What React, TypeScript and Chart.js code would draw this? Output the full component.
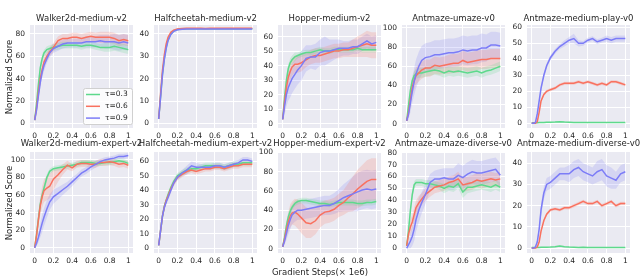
import React, { useEffect, useRef } from "react";
import { Chart, registerables } from "chart.js";
Chart.register(...registerables);

// ---------- shared ----------
const X_STEPS = [0, 0.02, 0.04, 0.06, 0.08, 0.1, 0.13, 0.16, 0.2, 0.25, 0.3, 0.35, 0.4, 0.45, 0.5, 0.55, 0.6, 0.65, 0.7, 0.75, 0.8, 0.85, 0.9, 0.95, 1.0];
const X_TICKS = [0, 0.2, 0.4, 0.6, 0.8, 1];
const LEGEND_LABELS = ["τ=0.3", "τ=0.6", "τ=0.9"];
const LINE_COLORS = ["#5ed98c", "#f9715f", "#7c7cf7"];
const BAND_COLORS = ["rgba(94,217,140,0.2)", "rgba(249,113,95,0.2)", "rgba(124,124,247,0.2)"];
const TITLES = [
  "Walker2d-medium-v2", "Halfcheetah-medium-v2", "Hopper-medium-v2", "Antmaze-umaze-v0", "Antmaze-medium-play-v0",
  "Walker2d-medium-expert-v2", "Halfcheetah-medium-expert-v2", "Hopper-medium-expert-v2", "Antmaze-umaze-diverse-v0", "Antmaze-medium-diverse-v0",
];
const Y_LABEL = "Normalized Score";
const X_LABEL = "Gradient Steps(× 1e6)";

// y axis ticks / ranges per panel
const Y_TICKS = [
  [0, 20, 40, 60, 80],
  [0, 10, 20, 30, 40],
  [0, 10, 20, 30, 40, 50, 60],
  [0, 20, 40, 60, 80, 100],
  [0, 10, 20, 30, 40, 50, 60],
  [0, 20, 40, 60, 80, 100],
  [0, 10, 20, 30, 40, 50, 60],
  [0, 20, 40, 60, 80, 100],
  [0, 10, 20, 30, 40, 50, 60, 70, 80],
  [0, 10, 20, 30, 40],
];
const Y_MIN = [-4, -2, -3, -4.5, -3, -6, -3.3, -4.5, -4, -2.3];
const Y_MAX = [88, 44, 68, 103, 61.5, 109, 66.5, 100.5, 80.5, 45.3];

// ---------- data (mean, ±sd) ----------
// Walker2d-medium-v2
const WM_G = [3, 18, 35, 50, 58, 63, 66, 67, 68, 69, 70, 70, 70, 70, 69, 70, 70, 69, 68, 68, 68, 69, 68, 67, 66];
const WM_G_SD = [1, 3, 4, 4, 4, 3, 3, 3, 3, 3, 3, 3, 3, 3, 3, 3, 3, 3, 3, 4, 4, 4, 4, 4, 4];
const WM_R = [3, 14, 28, 40, 48, 55, 60, 64, 68, 74, 76, 76, 77, 77, 76, 77, 78, 77, 77, 77, 77, 76, 74, 75, 74];
const WM_R_SD = [1, 3, 5, 5, 5, 5, 4, 4, 4, 4, 4, 4, 4, 4, 4, 4, 4, 4, 5, 5, 5, 5, 5, 5, 5];
const WM_B = [3, 12, 25, 37, 46, 52, 58, 63, 67, 69, 71, 72, 72, 72, 72, 73, 73, 73, 74, 73, 73, 73, 72, 73, 72];
const WM_B_SD = [1, 3, 4, 5, 5, 5, 4, 4, 4, 4, 4, 4, 4, 4, 4, 5, 5, 5, 5, 6, 6, 7, 7, 7, 7];
// Halfcheetah-medium-v2
const HM_G = [2, 12, 22, 29, 34, 37.5, 40, 41.3, 42, 42.2, 42.3, 42.3, 42.3, 42.3, 42.3, 42.3, 42.3, 42.3, 42.3, 42.3, 42.3, 42.3, 42.3, 42.3, 42.3];
const HM_G_SD = [0.3, 0.5, 0.6, 0.6, 0.5, 0.5, 0.4, 0.3, 0.3, 0.3, 0.3, 0.3, 0.3, 0.3, 0.3, 0.3, 0.3, 0.3, 0.3, 0.3, 0.3, 0.3, 0.3, 0.3, 0.3];
const HM_R = [2, 13, 23.5, 30.5, 35.5, 38.5, 40.8, 41.7, 42.2, 42.4, 42.5, 42.5, 42.5, 42.5, 42.4, 42.5, 42.5, 42.5, 42.5, 42.6, 42.6, 42.6, 42.6, 42.6, 42.5];
const HM_R_SD = [0.3, 0.5, 0.6, 0.6, 0.5, 0.5, 0.4, 0.3, 0.3, 0.3, 0.3, 0.3, 0.3, 0.3, 0.3, 0.3, 0.3, 0.3, 0.3, 0.3, 0.3, 0.3, 0.3, 0.3, 0.3];
const HM_B = [2, 11.5, 21.5, 28.5, 33.5, 37, 39.8, 41.2, 41.9, 42.1, 42.2, 42.2, 42.2, 42.2, 42.2, 42.2, 42.2, 42.2, 42.2, 42.2, 42.2, 42.2, 42.2, 42.2, 42.2];
const HM_B_SD = [0.3, 0.5, 0.6, 0.6, 0.5, 0.5, 0.4, 0.3, 0.3, 0.3, 0.3, 0.3, 0.3, 0.3, 0.3, 0.3, 0.3, 0.3, 0.3, 0.3, 0.3, 0.3, 0.3, 0.3, 0.3];
// Hopper-medium-v2
const HPM_G = [3, 18, 30, 38, 42, 44, 46, 47, 48, 49, 49, 50, 51, 50, 50, 51, 51, 51, 51, 51, 52, 51, 51, 51, 51];
const HPM_G_SD = [1, 4, 4, 3, 3, 3, 3, 2, 2, 2, 2, 2, 2, 2, 2, 2, 2, 2, 2, 2, 2, 2, 2, 2, 2];
const HPM_R = [3, 15, 25, 32, 36, 39, 41, 41, 42, 44, 46, 47, 47, 48, 49, 50, 50, 51, 51, 52, 53, 54, 55, 54, 54];
const HPM_R_SD = [1, 5, 6, 6, 6, 6, 6, 6, 6, 5, 5, 5, 5, 5, 5, 5, 5, 5, 5, 6, 7, 8, 9, 9, 9];
const HPM_B = [3, 12, 20, 25, 28, 31, 34, 37, 40, 45, 46, 46, 49, 50, 50, 51, 52, 52, 52, 53, 53, 55, 57, 55, 56];
const HPM_B_SD = [1, 6, 8, 9, 10, 10, 10, 10, 10, 9, 8, 9, 9, 10, 8, 7, 6, 5, 5, 5, 5, 5, 5, 5, 5];
// Antmaze-umaze-v0
const AU_G = [3, 20, 35, 45, 50, 52, 53, 53, 54, 55, 56, 55, 53, 55, 54, 55, 54, 53, 54, 55, 53, 55, 56, 58, 60];
const AU_G_SD = [1, 4, 5, 5, 5, 5, 5, 5, 5, 5, 5, 5, 5, 5, 5, 5, 5, 5, 5, 5, 5, 5, 5, 5, 5];
const AU_R = [3, 12, 25, 38, 45, 50, 53, 56, 58, 58, 61, 60, 61, 62, 63, 63, 66, 64, 65, 66, 67, 67, 68, 68, 68];
const AU_R_SD = [1, 5, 7, 8, 9, 9, 9, 9, 9, 9, 9, 9, 9, 10, 10, 10, 10, 10, 10, 10, 10, 10, 10, 10, 10];
const AU_B = [3, 10, 22, 34, 44, 52, 60, 66, 69, 70, 72, 72, 73, 74, 74, 75, 77, 76, 77, 77, 79, 79, 82, 82, 81];
const AU_B_SD = [1, 6, 10, 12, 14, 15, 15, 15, 15, 15, 15, 15, 15, 15, 15, 15, 15, 15, 15, 15, 15, 14, 14, 14, 14];
// Antmaze-medium-play-v0
const AMP_G = [0.3, 0.3, 0.3, 0.3, 0.4, 0.5, 0.5, 0.6, 0.6, 0.7, 0.9, 0.7, 0.6, 0.5, 0.4, 0.4, 0.4, 0.4, 0.4, 0.4, 0.4, 0.5, 0.5, 0.4, 0.4];
const AMP_G_SD = [0.2, 0.2, 0.2, 0.3, 0.3, 0.3, 0.3, 0.3, 0.3, 0.3, 0.3, 0.3, 0.3, 0.3, 0.3, 0.3, 0.3, 0.3, 0.3, 0.3, 0.3, 0.3, 0.3, 0.3, 0.3];
const AMP_R = [0, 0, 0, 1, 7, 14, 18, 20, 21, 22, 24, 25, 25, 25, 26, 25, 26, 25, 24, 25, 24, 26, 26, 25, 24];
const AMP_R_SD = [0, 0, 0.2, 0.5, 1, 1, 1, 1, 1, 1, 1, 1, 1, 1, 1, 1, 1, 1, 1, 1, 1, 1, 1, 1, 1];
const AMP_B = [0, 0, 0.5, 6, 14, 22, 30, 36, 41, 45, 48, 50, 52, 53, 50, 50, 52, 53, 51, 52, 53, 52, 53, 53, 53];
const AMP_B_SD = [0, 0, 0.5, 1, 1.5, 1.5, 1.5, 1.5, 1.5, 1.5, 1.5, 2, 2, 3, 2, 1.5, 1.5, 1.5, 1.5, 1.5, 2, 2, 2, 2, 2];
// Walker2d-medium-expert-v2
const WME_G = [0, 15, 33, 50, 60, 68, 80, 87, 90, 91, 92, 93, 94, 95, 97, 97, 97, 96, 96, 97, 97, 98, 99, 98, 96];
const WME_G_SD = [1, 3, 4, 4, 4, 4, 4, 3, 3, 3, 3, 3, 3, 3, 3, 3, 3, 3, 3, 3, 3, 3, 3, 3, 3];
const WME_R = [0, 14, 32, 48, 58, 65, 68, 70, 78, 83, 89, 94, 91, 95, 96, 96, 95, 95, 97, 97, 98, 97, 95, 96, 94];
const WME_R_SD = [1, 4, 8, 10, 12, 13, 14, 14, 12, 8, 6, 5, 4, 4, 4, 4, 4, 4, 4, 4, 4, 4, 4, 4, 4];
const WME_B = [0, 5, 12, 20, 28, 35, 44, 52, 58, 62, 66, 70, 75, 80, 85, 88, 92, 95, 98, 100, 101, 102, 104, 104, 105];
const WME_B_SD = [1, 3, 6, 8, 10, 10, 10, 9, 8, 7, 6, 5, 5, 4, 4, 4, 4, 4, 3, 3, 3, 3, 3, 3, 3];
// Halfcheetah-medium-expert-v2
const HME_G = [2, 12, 22, 29, 33, 37, 42, 46, 50, 52, 54, 55, 55, 56, 57, 57, 57, 57, 56, 57, 58, 58, 59, 59, 59];
const HME_G_SD = [0.5, 1, 2, 2, 2, 2, 2, 2, 2, 2, 2, 2, 2, 2, 2, 2, 2, 2, 2, 2, 2, 2, 2, 2, 2];
const HME_R = [2, 12, 22, 28.5, 33, 36, 41, 45, 49, 51, 53, 54, 53, 54, 55, 55, 56, 56, 55, 56, 57, 57, 58, 58, 58];
const HME_R_SD = [0.5, 1, 2, 2, 2, 2, 2, 2, 2, 2, 2, 2, 2, 2, 2, 2, 2, 2, 2, 2, 2, 2, 2, 2, 2];
const HME_B = [2, 12, 22, 28, 32, 35, 40, 45, 49, 52, 54, 57, 56, 56, 56, 56, 57, 57, 56, 57, 58, 59, 61, 61, 60];
const HME_B_SD = [0.5, 1, 2, 2, 2, 2, 2, 2, 2, 2, 3, 3, 3, 2, 2, 2, 2, 2, 2, 2, 2, 2, 2, 2, 2];
// Hopper-medium-expert-v2
const HPME_G = [2, 12, 24, 33, 39, 43, 47, 49, 50, 50, 49, 48, 47, 47, 46, 47, 48, 48, 48, 48, 47, 47, 48, 48, 49];
const HPME_G_SD = [1, 3, 4, 4, 4, 3, 3, 3, 3, 3, 3, 3, 3, 3, 3, 3, 3, 3, 3, 3, 3, 3, 3, 3, 3];
const HPME_R = [2, 10, 20, 28, 34, 37, 38, 36, 32, 27, 26, 29, 35, 38, 39, 41, 45, 48, 53, 57, 62, 66, 70, 72, 72];
const HPME_R_SD = [1, 5, 8, 10, 12, 12, 14, 15, 16, 16, 15, 14, 13, 12, 12, 12, 12, 13, 15, 18, 20, 21, 22, 22, 22];
const HPME_B = [2, 8, 16, 24, 30, 35, 38, 40, 40, 41, 42, 43, 44, 45, 45, 47, 50, 53, 55, 57, 59, 61, 62, 61, 62];
const HPME_B_SD = [1, 4, 7, 9, 10, 10, 10, 10, 10, 10, 10, 10, 10, 10, 10, 11, 12, 14, 16, 18, 20, 20, 20, 20, 20];
// Antmaze-umaze-diverse-v0
const AUD_G = [2, 15, 32, 45, 53, 55, 55, 55, 54, 54, 53, 52, 50, 52, 51, 54, 47, 51, 51, 52, 53, 52, 51, 53, 51];
const AUD_G_SD = [1, 4, 4, 4, 3, 3, 3, 3, 3, 3, 3, 3, 4, 4, 4, 4, 5, 5, 4, 4, 4, 4, 4, 4, 4];
const AUD_R = [2, 12, 18, 22, 28, 34, 38, 41, 45, 48, 51, 52, 53, 55, 56, 58, 53, 54, 55, 57, 56, 57, 58, 57, 58];
const AUD_R_SD = [1, 4, 6, 6, 6, 6, 6, 5, 5, 5, 5, 5, 5, 5, 5, 6, 6, 6, 6, 6, 6, 6, 6, 6, 6];
const AUD_B = [0, 3, 6, 10, 16, 24, 32, 38, 45, 55, 58, 58, 59, 58, 58, 61, 59, 62, 64, 63, 63, 64, 65, 66, 61];
const AUD_B_SD = [1, 3, 6, 8, 10, 10, 10, 9, 8, 7, 7, 8, 8, 9, 9, 10, 10, 10, 10, 10, 10, 10, 10, 10, 10];
// Antmaze-medium-diverse-v0
const AMD_G = [0.3, 0.3, 0.3, 0.3, 0.3, 0.4, 0.4, 0.4, 0.5, 0.7, 1.0, 0.7, 0.5, 0.4, 0.3, 0.4, 0.3, 0.3, 0.3, 0.3, 0.3, 0.3, 0.3, 0.3, 0.3];
const AMD_G_SD = [0.2, 0.2, 0.2, 0.2, 0.2, 0.2, 0.2, 0.2, 0.2, 0.3, 0.3, 0.3, 0.2, 0.2, 0.2, 0.2, 0.2, 0.2, 0.2, 0.2, 0.2, 0.2, 0.2, 0.2, 0.2];
const AMD_R = [0, 0, 0, 0.5, 3, 8, 13, 16, 18, 18.5, 18, 19, 19, 20, 21, 22, 21, 21, 22, 20, 21, 22, 20, 21, 21];
const AMD_R_SD = [0, 0, 0.2, 0.4, 0.6, 0.8, 0.8, 0.8, 0.8, 0.8, 0.8, 0.8, 0.8, 0.8, 0.8, 0.8, 0.8, 0.8, 0.8, 0.8, 0.8, 0.8, 0.8, 0.8, 0.8];
const AMD_B = [0, 0, 0.5, 3, 9, 18, 26, 30, 31, 33, 35, 35, 35, 37, 38, 36, 35, 34, 36, 37, 34, 33, 32, 35, 36];
const AMD_B_SD = [0, 0, 0.5, 1, 2, 3, 3, 3, 3, 3, 3, 3, 4, 4, 4, 4, 4, 4, 5, 5, 5, 5, 4, 4, 4];

const MEANS = [
  [WM_G, WM_R, WM_B], [HM_G, HM_R, HM_B], [HPM_G, HPM_R, HPM_B], [AU_G, AU_R, AU_B], [AMP_G, AMP_R, AMP_B],
  [WME_G, WME_R, WME_B], [HME_G, HME_R, HME_B], [HPME_G, HPME_R, HPME_B], [AUD_G, AUD_R, AUD_B], [AMD_G, AMD_R, AMD_B],
];
const SDS = [
  [WM_G_SD, WM_R_SD, WM_B_SD], [HM_G_SD, HM_R_SD, HM_B_SD], [HPM_G_SD, HPM_R_SD, HPM_B_SD], [AU_G_SD, AU_R_SD, AU_B_SD], [AMP_G_SD, AMP_R_SD, AMP_B_SD],
  [WME_G_SD, WME_R_SD, WME_B_SD], [HME_G_SD, HME_R_SD, HME_B_SD], [HPME_G_SD, HPME_R_SD, HPME_B_SD], [AUD_G_SD, AUD_R_SD, AUD_B_SD], [AMD_G_SD, AMD_R_SD, AMD_B_SD],
];

// ---------- layout ----------
const COL_LEFTS = [30, 154, 278, 402, 527];
const ROW_TOPS = [25, 152];
const ROW_HEIGHTS = [103, 101];
const TITLE_GAPS = [4, 6];
const PLOT_W = 103;
const PAD_L = 34;
const PAD_R = 18;
const PAD_T = 18;
const PAD_B = 14;
const FONT = "'DejaVu Sans', sans-serif";
const TEXT_COLOR = "#262626";

const bgPlugin = {
  id: "sbBg",
  beforeDraw(chart: any) {
    const { ctx, chartArea: a } = chart;
    ctx.save();
    ctx.fillStyle = "#eaeaf2";
    ctx.fillRect(a.left, a.top, a.right - a.left, a.bottom - a.top);
    ctx.restore();
  },
};

const titlePlugin = {
  id: "sbTitle",
  afterDraw(chart: any, _args: any, opts: any) {
    const { ctx, chartArea: a } = chart;
    ctx.save();
    ctx.font = `8.5px ${FONT}`;
    ctx.fillStyle = TEXT_COLOR;
    ctx.textAlign = "center";
    ctx.textBaseline = "alphabetic";
    ctx.fillText(opts.text, (a.left + a.right) / 2, a.top - opts.gap);
    ctx.restore();
  },
};

const legendPlugin = {
  id: "sbLegend",
  afterDraw(chart: any, _args: any, opts: any) {
    if (!opts.show) return;
    const { ctx, chartArea: a } = chart;
    const w = 49, h = 36;
    const x = a.right - w - 1, y = a.bottom - h - 4;
    ctx.save();
    ctx.fillStyle = "rgba(255,255,255,0.85)";
    ctx.strokeStyle = "#d0d0d0";
    ctx.lineWidth = 1;
    ctx.beginPath();
    ctx.roundRect(x + 0.5, y + 0.5, w, h, 2);
    ctx.fill();
    ctx.stroke();
    ctx.font = `7.5px ${FONT}`;
    ctx.textBaseline = "middle";
    ctx.textAlign = "left";
    LEGEND_LABELS.forEach((lab, i) => {
      const cy = y + 6.5 + i * 11.8;
      ctx.strokeStyle = LINE_COLORS[i];
      ctx.lineWidth = 1.5;
      ctx.beginPath();
      ctx.moveTo(x + 3, cy);
      ctx.lineTo(x + 17, cy);
      ctx.stroke();
      ctx.fillStyle = TEXT_COLOR;
      ctx.fillText(lab, x + 22, cy);
    });
    ctx.restore();
  },
};

function Panel({ idx }: { idx: number }) {
  const ref = useRef<HTMLCanvasElement>(null);
  const row = Math.floor(idx / 5);
  const col = idx % 5;
  const cw = PAD_L + PLOT_W + PAD_R;
  const ch = PAD_T + ROW_HEIGHTS[row] + PAD_B;
  const left = COL_LEFTS[col] - PAD_L;
  const top = ROW_TOPS[row] - PAD_T;

  useEffect(() => {
    const datasets: any[] = [];
    for (let s = 0; s < 3; s++) {
      const m = MEANS[idx][s];
      const sd = SDS[idx][s];
      datasets.push({
        data: X_STEPS.map((x, i) => ({ x, y: m[i] - sd[i] })),
        borderWidth: 0,
        pointRadius: 0,
        fill: false,
        order: 20 + s * 2,
      });
      datasets.push({
        data: X_STEPS.map((x, i) => ({ x, y: m[i] + sd[i] })),
        borderWidth: 0,
        pointRadius: 0,
        fill: "-1",
        backgroundColor: BAND_COLORS[s],
        order: 21 + s * 2,
      });
    }
    for (let s = 0; s < 3; s++) {
      const m = MEANS[idx][s];
      datasets.push({
        label: LEGEND_LABELS[s],
        data: X_STEPS.map((x, i) => ({ x, y: m[i] })),
        borderColor: LINE_COLORS[s],
        borderWidth: 1.5,
        pointRadius: 0,
        fill: false,
        order: 2 - s,
      });
    }
    const yt = Y_TICKS[idx];
    const chart = new Chart(ref.current as HTMLCanvasElement, {
      type: "line",
      data: { datasets },
      plugins: [bgPlugin, titlePlugin, legendPlugin],
      options: {
        responsive: false,
        animation: false,
        events: [],
        layout: { padding: { left: 0, right: PAD_R, top: PAD_T, bottom: 0 } },
        plugins: {
          legend: { display: false },
          tooltip: { enabled: false },
          sbTitle: { text: TITLES[idx], gap: TITLE_GAPS[row] },
          sbLegend: { show: idx === 0 },
        } as any,
        scales: {
          x: {
            type: "linear",
            min: -0.05,
            max: 1.05,
            afterBuildTicks: (sc: any) => { sc.ticks = X_TICKS.map((v) => ({ value: v })); },
            afterFit: (sc: any) => { sc.height = PAD_B; },
            grid: { color: "#ffffff", lineWidth: 1, drawTicks: false },
            border: { display: false },
            ticks: {
              padding: 4,
              maxRotation: 0,
              autoSkip: false,
              color: TEXT_COLOR,
              font: { family: FONT, size: 7.5 },
              callback: (v: any) => String(Math.round(Number(v) * 10) / 10),
            },
          },
          y: {
            type: "linear",
            min: Y_MIN[idx],
            max: Y_MAX[idx],
            afterBuildTicks: (sc: any) => { sc.ticks = yt.map((v) => ({ value: v })); },
            afterFit: (sc: any) => { sc.width = PAD_L; },
            grid: { color: "#ffffff", lineWidth: 1, drawTicks: false },
            border: { display: false },
            ticks: {
              padding: 5,
              autoSkip: false,
              color: TEXT_COLOR,
              font: { family: FONT, size: 7.5 },
              callback: (v: any) => String(v),
            },
          },
        },
      } as any,
    });
    return () => chart.destroy();
  }, [idx]);

  return (
    <canvas
      ref={ref}
      width={cw}
      height={ch}
      style={{ position: "absolute", left, top, width: cw, height: ch }}
    />
  );
}

export default function App() {
  const labelStyle: React.CSSProperties = {
    position: "absolute",
    fontFamily: FONT,
    fontSize: "8.5px",
    color: TEXT_COLOR,
    whiteSpace: "nowrap",
    lineHeight: "1",
  };
  return (
    <div style={{ position: "absolute", left: 0, top: 0, width: 640, height: 278, background: "#ffffff", overflow: "hidden" }}>
      {Array.from({ length: 10 }, (_, i) => <Panel key={i} idx={i} />)}
      {ROW_TOPS.map((t, r) => (
        <div
          key={r}
          style={{ ...labelStyle, left: 9, top: t + ROW_HEIGHTS[r] / 2, transform: "translate(-50%, -50%) rotate(-90deg)" }}
        >
          {Y_LABEL}
        </div>
      ))}
      <div style={{ ...labelStyle, left: 320, top: 272, transform: "translate(-50%, -50%)" }}>{X_LABEL}</div>
    </div>
  );
}
